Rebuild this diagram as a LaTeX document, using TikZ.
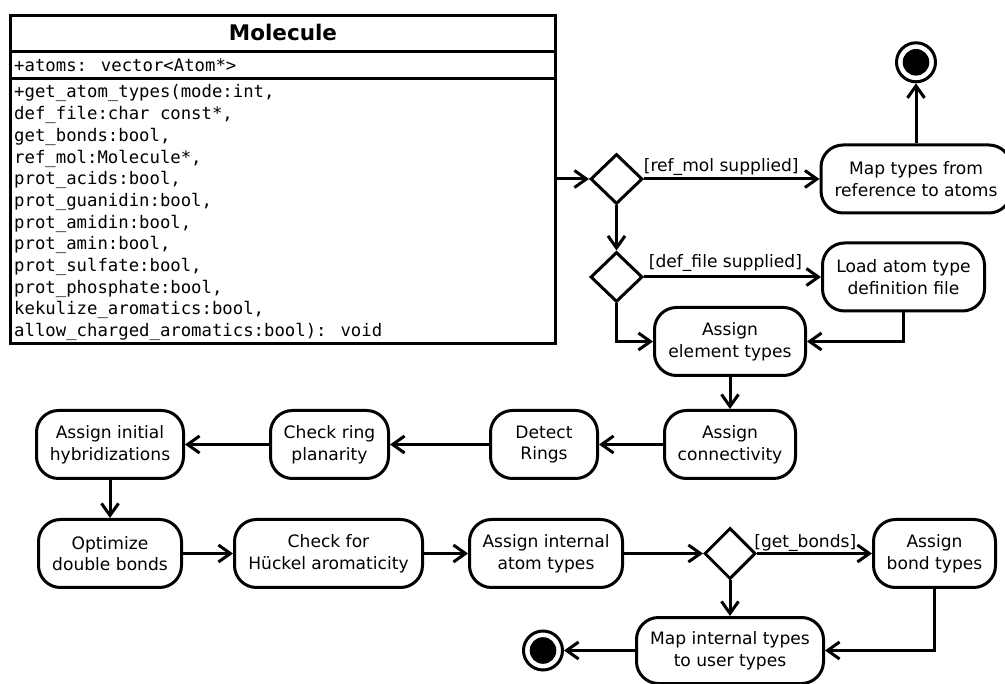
\documentclass[tikz,border=0pt]{standalone}
\usepackage{fontspec}
\setmainfont{DejaVu Sans}
\newfontfamily\monof{DejaVu Sans Mono}
\usetikzlibrary{shapes.geometric,arrows.meta}
\begin{document}
\begin{tikzpicture}[x=1pt,y=-1pt,
  lw/.style={line width=3pt},
  act/.style={draw, lw, rounded corners=22pt, align=center, font=\fontsize{17.1pt}{21.7pt}\selectfont, minimum height=68pt, inner sep=0pt},
  dec/.style={draw, lw, diamond, inner sep=0pt, minimum width=52pt, minimum height=50pt},
  fin/.style={draw, lw, circle, inner sep=0pt, minimum size=39pt},
  flow/.style={lw, -{Straight Barb[length=12pt,width=17pt]}},
  lab/.style={font=\fontsize{17.1pt}{21.7pt}\selectfont, inner sep=0pt, anchor=base},
  mono/.style={font=\monof\fontsize{17.3pt}{21.7pt}\selectfont, inner sep=0pt, anchor=base west}
]
\useasboundingbox (0,0) rectangle (1005,684);

% class box
\node[draw, lw, outer sep=0pt, inner sep=0pt, anchor=north west, minimum width=545pt, minimum height=328pt] (cls) at (10.5,15.5) {};
\draw[lw] (10.5,52) -- (555.5,52);
\draw[lw] (10.5,79) -- (555.5,79);
\node[font=\bfseries\fontsize{21.5pt}{26pt}\selectfont, inner sep=0pt, anchor=base] (title) at (283,40.3) {Molecule};
\node[mono] (attr) at (14,72) {+atoms: vector<Atom*>};
\node[mono] (meth) at (14,98) {\vtop{\baselineskip=21.7pt\lineskiplimit=-20pt
\hbox{+get\_atom\_types(mode:int,}
\hbox{def\_file:char const*,}
\hbox{get\_bonds:bool,}
\hbox{ref\_mol:Molecule*,}
\hbox{prot\_acids:bool,}
\hbox{prot\_guanidin:bool,}
\hbox{prot\_amidin:bool,}
\hbox{prot\_amin:bool,}
\hbox{prot\_sulfate:bool,}
\hbox{prot\_phosphate:bool,}
\hbox{kekulize\_aromatics:bool,}
\hbox{allow\_charged\_aromatics:bool): void}}};

% activity nodes
\node[dec] (d1) at (616.5,179) {};
\node[act, minimum width=190pt] (m1) at (916,179) {Map types from\\reference to atoms};
\node[fin] (fin1) at (916,62.3) {};
\fill (fin1.center) circle[radius=13.3pt];
\node[dec] (d2) at (616.5,277) {};
\node[act, minimum width=162pt] (l1) at (903.5,277) {Load atom type\\definition file};
\node[act, minimum width=151pt] (ae) at (730,341.5) {Assign\\element types};
\node[act, minimum width=131pt] (ac) at (730,444.5) {Assign\\connectivity};
\node[act, minimum width=107pt] (dr) at (544,444.5) {Detect\\Rings};
\node[act, minimum width=118pt] (crp) at (329.5,444.5) {Check ring\\planarity};
\node[act, minimum width=147pt] (aih) at (110,444.5) {Assign initial\\hybridizations};
\node[act, minimum width=143pt] (odb) at (110,553.5) {Optimize\\double bonds};
\node[act, minimum width=188pt] (chk) at (328.5,553.5) {Check for\\Hückel aromaticity};
\node[act, minimum width=153pt] (aia) at (546,553.5) {Assign internal\\atom types};
\node[dec, minimum width=51pt, minimum height=51pt] (d3) at (730,553.5) {};
\node[act, minimum width=122pt] (abt) at (934.5,553.5) {Assign\\bond types};
\node[act, minimum width=187pt, minimum height=66pt] (mit) at (730,650.5) {Map internal types\\to user types};
\node[fin] (fin2) at (543,650.5) {};
\fill (fin2.center) circle[radius=13.3pt];

% connectors
\draw[flow] (cls.east |- d1.west) -- (d1.west);
\draw[flow] (d1.east) -- (m1.west) node[lab, pos=0.44, yshift=7pt] (lb1) {[ref\_mol supplied]};
\draw[flow] (m1.north) -- (fin1.south);
\draw[flow] (d1.south) -- (d2.north);
\draw[flow] (d2.east) -- (l1.west) node[lab, pos=0.46, yshift=9.2pt] (lb2) {[def\_file supplied]};
\draw[flow] (d2.south) |- (ae.west);
\draw[flow] (l1.south) |- (ae.east);
\draw[flow] (ae.south) -- (ac.north);
\draw[flow] (ac.west) -- (dr.east);
\draw[flow] (dr.west) -- (crp.east);
\draw[flow] (crp.west) -- (aih.east);
\draw[flow] (aih.south) -- (odb.north);
\draw[flow] (odb.east) -- (chk.west);
\draw[flow] (chk.east) -- (aia.west);
\draw[flow] (aia.east) -- (d3.west);
\draw[flow] (d3.east) -- (abt.west) node[lab, pos=0.42, yshift=6.2pt] (lb3) {[get\_bonds]};
\draw[flow] (d3.south) -- (mit.north);
\draw[flow] (abt.south) |- (mit.east);
\draw[flow] (mit.west) -- (fin2.east);
\end{tikzpicture}
\end{document}
